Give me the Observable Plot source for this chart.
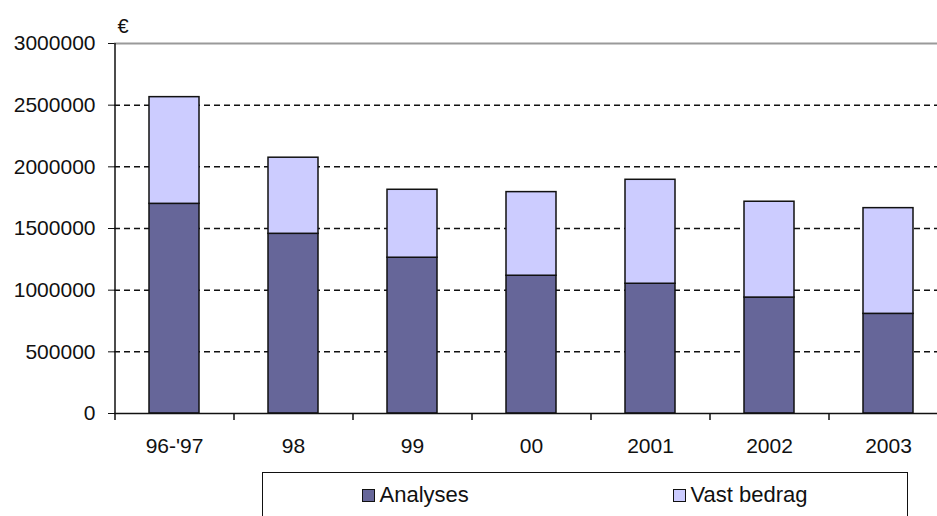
<!DOCTYPE html>
<html><head><meta charset="utf-8">
<script src="https://cdn.jsdelivr.net/npm/d3@7"></script>
<script src="https://cdn.jsdelivr.net/npm/@observablehq/plot@0.6"></script>
<style>
body{margin:0;background:#fff;font-family:"Liberation Sans",Arial,sans-serif;}
#wrap{position:relative;width:937px;height:516px;overflow:hidden;background:#fff;}
#legend{position:absolute;left:262px;top:472px;width:646px;height:70px;border:1.5px solid #111;box-sizing:border-box;}
.item{position:absolute;top:11px;font-size:22px;line-height:22px;color:#111;display:flex;align-items:center;white-space:nowrap;}
.sw{width:11px;height:11px;border:1.5px solid #111;margin-right:5px;}
</style></head><body><div id="wrap"><div id="chart"></div><div id="legend"></div></div>
<script>
const categories = ["96-'97", "98", "99", "00", "2001", "2002", "2003"];
const analyses = [1700000, 1457000, 1263000, 1117000, 1052000, 940000, 808000];
const vastBedrag = [865000, 617000, 551000, 678000, 843000, 777000, 857000];
const seriesNames = ["Analyses", "Vast bedrag"];
const seriesColors = ["#666699", "#ccccff"];
const yTicks = [0, 500000, 1000000, 1500000, 2000000, 2500000, 3000000];
const gridTicks = [500000, 1000000, 1500000, 2000000, 2500000];
const unitLabel = "€";

const data = [];
categories.forEach((c, i) => {
  data.push({year: c, series: seriesNames[0], value: analyses[i]});
  data.push({year: c, series: seriesNames[1], value: vastBedrag[i]});
});

const W = 937, H = 473, ML = 114, MT = 43, MB = 60;
const xRange = [ML, 947];
const step = (xRange[1] - xRange[0]) / categories.length;

const chart = Plot.plot({
  width: W, height: H,
  marginLeft: ML, marginTop: MT, marginBottom: MB, marginRight: 0,
  style: {fontFamily: "'Liberation Sans', Arial, sans-serif", fontSize: "21px", color: "#111", background: "#fff"},
  x: {domain: categories, range: xRange, paddingInner: 0.58, paddingOuter: 0.29, tickSize: 0, tickPadding: 25, label: null},
  y: {domain: [0, 3000000], ticks: yTicks, tickSize: 6, tickPadding: 13, tickFormat: d => String(d), label: null},
  color: {domain: seriesNames, range: seriesColors},
  marks: [
    Plot.ruleY(gridTicks, {stroke: "#111", strokeWidth: 1.5, strokeDasharray: "6,4"}),
    Plot.ruleY([3000000], {stroke: "#9a9a9a", strokeWidth: 2}),
    Plot.barY(data, {x: "year", y: "value", fill: "series", stroke: "#111", strokeWidth: 1.5}),
    Plot.ruleY([0], {stroke: "#111", strokeWidth: 1.5}),
    Plot.ruleX([categories[0]], {x: d => d, dx: -step / 2, y1: 3000000, y2: 0, insetBottom: -7, stroke: "#111", strokeWidth: 1.5}),
    Plot.ruleX(categories, {x: d => d, dx: step / 2, y1: 0, y2: 0, insetBottom: -7, stroke: "#111", strokeWidth: 1.5}),
    Plot.text([unitLabel], {text: d => d, frameAnchor: "top-left", dx: 3, dy: -25, textAnchor: "start", lineAnchor: "top", fontSize: 20, fill: "#111"})
  ]
});
document.getElementById("chart").appendChild(chart);

const legend = document.getElementById("legend");
const legendLeft = [98.5, 409.5];
seriesNames.forEach((s, i) => {
  const it = document.createElement("div");
  it.className = "item";
  it.style.left = legendLeft[i] + "px";
  const sw = document.createElement("span");
  sw.className = "sw";
  sw.style.background = seriesColors[i];
  it.appendChild(sw);
  it.appendChild(document.createTextNode(s));
  legend.appendChild(it);
});
</script></body></html>
